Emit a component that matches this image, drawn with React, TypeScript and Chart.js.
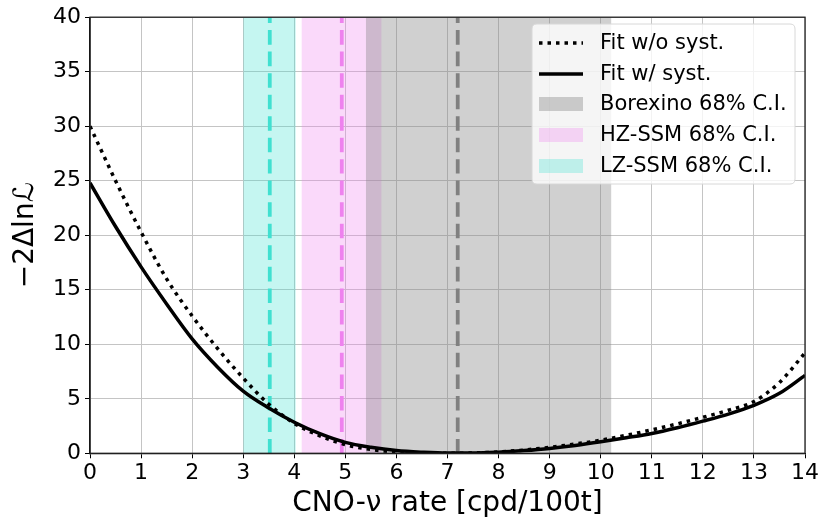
import React, { useEffect, useRef } from "react";
import { Chart, registerables } from "chart.js";

Chart.register(...registerables);

// ---- data ----
const xGrid = [0, 0.5, 1, 1.5, 2, 2.5, 3, 3.5, 4, 4.5, 5, 5.5, 6, 6.5, 7, 7.5, 8, 8.5, 9, 9.5, 10, 10.5, 11, 11.5, 12, 12.5, 13, 13.5, 14];
const fitWithSyst = [24.8, 20.8, 17.1, 13.7, 10.5, 7.9, 5.7, 4.15, 2.85, 1.8, 1.0, 0.55, 0.25, 0.1, 0.02, 0.02, 0.1, 0.25, 0.45, 0.72, 1.05, 1.42, 1.82, 2.35, 2.95, 3.6, 4.4, 5.5, 7.15];
const fitWithoutSyst = [30.0, 25.0, 20.3, 16.0, 12.6, 9.6, 6.9, 4.5, 2.75, 1.6, 0.8, 0.35, 0.12, 0.03, 0.0, 0.03, 0.13, 0.3, 0.55, 0.85, 1.2, 1.65, 2.15, 2.7, 3.3, 3.95, 4.75, 6.5, 9.2];

const boreCI = [5.4, 10.21];
const boreCentral = 7.2;
const hzCI = [4.14, 5.71];
const hzCentral = 4.93;
const lzCI = [3.0, 4.03];
const lzCentral = 3.52;

const xTicksMax = 14;
const yTicksMax = 40;

const legendLabels = ["Fit w/o syst.", "Fit w/ syst.", "Borexino 68% C.I.", "HZ-SSM 68% C.I.", "LZ-SSM 68% C.I."];

const FONT = "'DejaVu Sans', sans-serif";

const GRAY_BAND = "rgba(128,128,128,0.37)";
const PINK_BAND = "rgba(238,130,238,0.3)";
const CYAN_BAND = "rgba(64,224,208,0.3)";

const pts = (ys: number[]) => xGrid.map((x, i) => ({ x, y: ys[i] }));
const band = (r: number[]) => [{ x: r[0], y: yTicksMax }, { x: r[1], y: yTicksMax }];
const vline = (x: number) => [{ x, y: 0 }, { x, y: yTicksMax }];

const framePlugin = {
  id: "frameAndLegend",
  afterDraw(chart: any) {
    const { ctx, chartArea } = chart;
    ctx.save();
    ctx.strokeStyle = "#222";
    ctx.lineWidth = 1.3;
    ctx.strokeRect(chartArea.left, chartArea.top, chartArea.right - chartArea.left, chartArea.bottom - chartArea.top);

    // legend box
    const bx = 532, by = 24, bw = 263, bh = 160, r = 5;
    ctx.beginPath();
    ctx.moveTo(bx + r, by);
    ctx.lineTo(bx + bw - r, by);
    ctx.quadraticCurveTo(bx + bw, by, bx + bw, by + r);
    ctx.lineTo(bx + bw, by + bh - r);
    ctx.quadraticCurveTo(bx + bw, by + bh, bx + bw - r, by + bh);
    ctx.lineTo(bx + r, by + bh);
    ctx.quadraticCurveTo(bx, by + bh, bx, by + bh - r);
    ctx.lineTo(bx, by + r);
    ctx.quadraticCurveTo(bx, by, bx + r, by);
    ctx.closePath();
    ctx.fillStyle = "rgba(255,255,255,0.8)";
    ctx.fill();
    ctx.strokeStyle = "#d8d8d8";
    ctx.lineWidth = 1;
    ctx.stroke();

    const rows = [43, 74, 104, 135, 166];
    const sx0 = 539, sx1 = 583, tx = 600;
    ctx.font = `21px ${FONT}`;
    ctx.textBaseline = "middle";
    ctx.textAlign = "left";
    rows.forEach((y, i) => {
      if (i === 0 || i === 1) {
        ctx.beginPath();
        ctx.strokeStyle = "#000";
        ctx.lineWidth = 3.5;
        ctx.setLineDash(i === 0 ? [3.5, 5] : []);
        ctx.moveTo(sx0, y);
        ctx.lineTo(sx1, y);
        ctx.stroke();
        ctx.setLineDash([]);
      } else {
        ctx.fillStyle = i === 2 ? GRAY_BAND : i === 3 ? PINK_BAND : CYAN_BAND;
        ctx.fillRect(sx0, y - 7, sx1 - sx0, 14);
      }
      ctx.fillStyle = "#000";
      ctx.fillText(legendLabels[i], tx, y + 1);
    });
    ctx.restore();
  },
};

export default function App() {
  const ref = useRef<HTMLCanvasElement | null>(null);
  useEffect(() => {
    if (!ref.current) return;
    const line = (data: any[], color: string, dash: number[], width: number, order: number) => ({
      type: "line",
      data,
      borderColor: color,
      borderWidth: width,
      borderDash: dash,
      borderCapStyle: "butt",
      pointRadius: 0,
      fill: false,
      order,
      cubicInterpolationMode: "monotone",
    });
    const bandDs = (data: any[], color: string, order: number) => ({
      type: "line",
      data,
      borderWidth: 0,
      borderColor: "rgba(0,0,0,0)",
      backgroundColor: color,
      pointRadius: 0,
      fill: "origin",
      order,
    });
    const chart = new Chart(ref.current, {
      type: "line",
      data: {
        datasets: [
          { label: legendLabels[0], ...line(pts(fitWithoutSyst), "#000", [3.5, 5], 3.5, 0) },
          { label: legendLabels[1], ...line(pts(fitWithSyst), "#000", [], 3.5, 1) },
          { label: "lz-c", ...line(vline(lzCentral), "#40e0d0", [14.5, 7], 3.8, 2) },
          { label: "hz-c", ...line(vline(hzCentral), "#ee82ee", [14.5, 7], 3.8, 3) },
          { label: "bx-c", ...line(vline(boreCentral), "#808080", [14.5, 7], 3.8, 4) },
          { label: legendLabels[4], ...bandDs(band(lzCI), CYAN_BAND, 5) },
          { label: legendLabels[2], ...bandDs(band(boreCI), GRAY_BAND, 6) },
          { label: legendLabels[3], ...bandDs(band(hzCI), PINK_BAND, 7) },
        ] as any,
      },
      options: {
        animation: false,
        responsive: false,
        devicePixelRatio: 1,
        events: [],
        layout: { padding: { top: 14, right: 28, left: 0, bottom: 0 } },
        plugins: { legend: { display: false }, tooltip: { enabled: false } },
        scales: {
          x: {
            type: "linear",
            min: 0,
            max: xTicksMax,
            afterFit: (s: any) => { s.height = 67.7; },
            ticks: { stepSize: 1, color: "#000", font: { family: FONT, size: 22 }, padding: 2, maxRotation: 0 },
            grid: { color: "#c4c4c4", lineWidth: 1, tickLength: 5, tickColor: "#000" },
            border: { display: true, color: "#000", width: 1.3 },
            title: { display: true, text: "CNO-ν rate [cpd/100t]", color: "#000", font: { family: FONT, size: 28 }, padding: { top: 0, bottom: 0 } },
          },
          y: {
            type: "linear",
            min: 0,
            max: yTicksMax,
            afterFit: (s: any) => { s.width = 90; },
            ticks: { stepSize: 5, color: "#000", font: { family: FONT, size: 22 }, padding: 4 },
            grid: { color: "#c4c4c4", lineWidth: 1, tickLength: 5, tickColor: "#000" },
            border: { display: true, color: "#000", width: 1.3 },
            title: { display: true, text: "−2Δlnℒ", color: "#000", font: { family: FONT, size: 28 }, padding: { top: 9, bottom: 0 } },
          },
        },
      },
      plugins: [framePlugin],
    });
    return () => chart.destroy();
  }, []);
  return (
    <div style={{ position: "fixed", left: 0, top: 0, width: 833, height: 521, background: "#fff" }}>
      <canvas ref={ref} width={833} height={521} />
    </div>
  );
}
